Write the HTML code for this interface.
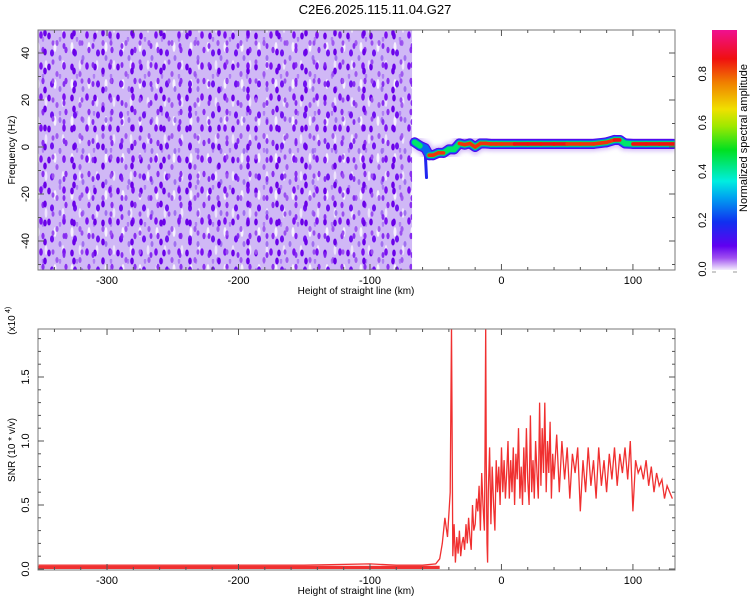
<!DOCTYPE html>
<html><head><meta charset="utf-8"><style>
body{margin:0;background:#fff}
svg{display:block;font-family:"Liberation Sans",sans-serif}
</style></head><body>
<svg id="c" width="750" height="600" xmlns="http://www.w3.org/2000/svg">
<defs>
<pattern id="nz1" width="23" height="31" patternUnits="userSpaceOnUse">
<ellipse cx="3" cy="5" rx="1.8" ry="3.5" fill="#6a00e8"/>
<ellipse cx="11" cy="12" rx="1.6" ry="3" fill="#9a50f0" opacity="0.9"/>
<ellipse cx="18" cy="4" rx="1.8" ry="3.8" fill="#7a10f0"/>
<ellipse cx="20" cy="19" rx="1.6" ry="3.2" fill="#8a30f0"/>
<ellipse cx="6" cy="22" rx="2" ry="3.6" fill="#7010f0"/>
<ellipse cx="14" cy="27" rx="1.5" ry="3" fill="#a070f0"/>
</pattern>
<pattern id="nz2" width="29" height="19" patternUnits="userSpaceOnUse">
<ellipse cx="6" cy="8" rx="1.5" ry="3" fill="#8020f0" opacity="0.9"/>
<ellipse cx="16" cy="14" rx="1.8" ry="3.5" fill="#6a00e8"/>
<ellipse cx="24" cy="5" rx="1.5" ry="2.8" fill="#9a50f0"/>
</pattern>
<pattern id="nz3" width="17" height="37" patternUnits="userSpaceOnUse">
<ellipse cx="4" cy="10" rx="1.5" ry="5" fill="#ffffff" opacity="0.8"/>
<ellipse cx="12" cy="28" rx="1.4" ry="5" fill="#f4eefe" opacity="0.8"/>
<ellipse cx="9" cy="2" rx="1.3" ry="3" fill="#b080f4"/>
</pattern>
<linearGradient id="cb" x1="0" y1="1" x2="0" y2="0">
<stop offset="0" stop-color="#f4ecfc"/>
<stop offset="0.05" stop-color="#a050f0"/>
<stop offset="0.1" stop-color="#6000f0"/>
<stop offset="0.2" stop-color="#1030f0"/>
<stop offset="0.3" stop-color="#00a0f0"/>
<stop offset="0.37" stop-color="#00eee0"/>
<stop offset="0.5" stop-color="#00e020"/>
<stop offset="0.6" stop-color="#a0e800"/>
<stop offset="0.67" stop-color="#f0e000"/>
<stop offset="0.78" stop-color="#f08000"/>
<stop offset="0.88" stop-color="#f01010"/>
<stop offset="1" stop-color="#f01090"/>
</linearGradient>
<filter id="blur"><feGaussianBlur stdDeviation="2"/></filter>
<clipPath id="clipTop"><rect x="38" y="30" width="637" height="240"/></clipPath>
<clipPath id="clipBot"><rect x="38" y="329" width="637" height="241"/></clipPath>
</defs>
<text x="375" y="14" text-anchor="middle" font-size="13">C2E6.2025.115.11.04.G27</text>
<g id="top"></g>
<g id="bot"></g>
<g id="cbar"></g>
</svg>
<script>
const NS="http://www.w3.org/2000/svg";
function mk(t,a,p){const e=document.createElementNS(NS,t);for(const k in a)e.setAttribute(k,a[k]);p.appendChild(e);return e;}
// ---- data ----
const xTicks=[-300,-200,-100,0,100];
const freqTicks=[-40,-20,0,20,40];
const snrTicks=[0.0,0.5,1.0,1.5];
const cbTicks=[0.0,0.2,0.4,0.6,0.8];
const noiseEnd=-68;
const ridgeX=[-66,-62,-58,-55,-52,-48,-44,-40,-36,-32,-28,-24,-20,-16,-12,-8,-4,0,10,20,30,40,50,60,70,80,86,90,94,100,110,120,132];
const ridgeF=[2.0,0.5,-0.5,-3.5,-3.5,-2.5,-2.5,-1.0,-1.0,1.5,1.0,1.5,0.0,1.5,1.5,1.3,1.3,1.3,1.3,1.3,1.3,1.3,1.3,1.3,1.3,2.0,3.0,3.0,1.5,1.3,1.3,1.3,1.3];
const ridgeA=[0.45,0.5,0.35,0.75,0.8,0.85,0.8,0.6,0.55,0.85,0.9,0.85,0.9,0.8,0.85,0.8,0.85,0.85,0.88,0.88,0.88,0.88,0.88,0.85,0.7,0.75,0.9,0.88,0.6,0.88,0.88,0.88,0.88];
const snrX=[-352,-300,-250,-200,-150,-100,-80,-60,-50,-47,-45,-43,-41,-39,-38,-37.5,-37,-36,-35,-34,-33,-32,-31,-30,-29,-28,-27,-26,-25,-24,-23,-22,-21,-20,-19,-18,-17,-16,-15,-14,-13,-12.5,-12,-11.5,-11,-10.5,-10,-9,-8,-7,-6,-5,-4,-3,-2,-1,0,1,2,3,4,5,6,7,8,9,10,11,12,13,14,15,16,17,18,19,20,21,22,23,24,25,26,27,28,29,30,31,32,33,34,35,36,37,38,39,40,42,44,46,48,50,52,54,56,58,60,62,64,66,68,70,72,74,76,78,80,82,84,86,88,90,92,94,96,98,100,102,104,106,108,110,112,114,116,118,120,122,124,126,128,130,132];
const snrY=[0.03,0.03,0.03,0.03,0.03,0.04,0.03,0.03,0.04,0.08,0.2,0.4,0.25,0.6,1.9,1.1,0.1,0.35,0.05,0.25,0.12,0.3,0.1,0.2,0.25,0.15,0.35,0.2,0.4,0.25,0.15,0.5,0.3,0.35,0.55,0.45,0.65,0.3,0.75,0.5,0.3,0.9,1.9,0.8,0.2,0.05,0.6,0.95,0.35,0.8,0.5,0.3,0.85,0.6,0.8,0.5,0.95,0.6,0.85,0.55,0.75,1.0,0.55,0.85,0.6,0.95,0.5,0.9,0.7,1.1,0.55,0.8,0.5,0.95,0.6,1.1,0.7,0.5,1.2,0.6,0.85,0.55,1.0,0.75,0.55,1.3,0.65,1.1,0.75,1.3,0.6,1.0,0.75,1.15,0.55,0.9,0.7,1.05,0.6,1.0,0.7,0.95,0.55,0.9,0.75,0.95,0.45,0.85,0.6,0.95,0.65,0.85,0.55,0.95,0.65,0.85,0.6,0.9,0.7,0.95,0.65,0.9,0.75,0.95,0.7,1.0,0.45,0.85,0.75,0.8,0.7,0.85,0.65,0.8,0.6,0.75,0.65,0.7,0.55,0.65,0.6,0.55];
// ---- scales ----
const X0=38,X1=675,KM0=-352.5,KM1=132;
const sx=v=>X0+(v-KM0)/(KM1-KM0)*(X1-X0);
const fy=v=>147-v*2.35;
const sy=v=>569-v*128;
const cy=v=>269-v*244;
function cmap(a){const st=[[0,[244,236,252]],[0.05,[160,80,240]],[0.1,[96,0,240]],[0.2,[16,48,240]],[0.3,[0,160,240]],[0.37,[0,238,224]],[0.5,[0,224,32]],[0.6,[160,232,0]],[0.67,[240,224,0]],[0.78,[240,128,0]],[0.88,[240,16,16]],[1,[240,16,144]]];
 for(let i=1;i<st.length;i++){if(a<=st[i][0]){const t=(a-st[i-1][0])/(st[i][0]-st[i-1][0]);const c=st[i-1][1].map((v,k)=>Math.round(v+(st[i][1][k]-v)*t));return `rgb(${c})`;}}return "rgb(240,16,144)";}
const pTop=document.getElementById('top'),pBot=document.getElementById('bot'),cb=document.getElementById('cbar');
// ---- spectrogram ----
const g1=mk('g',{'clip-path':'url(#clipTop)'},pTop);
const nw=sx(noiseEnd)-X0;
let bg=mk('rect',{x:X0,y:30,width:nw,height:240,fill:'#d0b8f6'},g1);


for(const id of ['nz3','nz1','nz2']){
 const n=mk('rect',{x:X0,y:30,width:nw,height:240,fill:`url(#${id})`},g1);
 
 
}
const rg=mk('g',{},g1);


let d0='';for(let i=0;i<ridgeX.length;i++)d0+=(i?'L':'M')+sx(ridgeX[i])+','+fy(ridgeF[i]);
const halo=mk('path',{d:d0,stroke:'#b890f4','stroke-width':14,fill:'none',opacity:0.6,filter:'url(#blur)'},rg);


let tl=mk('path',{d:`M${sx(-58)},${fy(-2)} L${sx(-57)},${fy(-13)}`,stroke:cmap(0.18),'stroke-width':3,'stroke-linecap':'round',fill:'none'},rg);


const layers=[[5,0.1],[3.8,0.22],[2.8,0.4],[1.8,0.65]];
for(const [w,a] of layers){
 for(let i=0;i<ridgeX.length-1;i++){
  const amp=Math.min(ridgeA[i],ridgeA[i+1]);
  if(amp<a)continue;
  const col=a<0.15?cmap(0.12):a<0.3?cmap(0.25):a<0.5?cmap(0.45):cmap(Math.max(0.85,amp));
  const s=mk('line',{x1:sx(ridgeX[i]),y1:fy(ridgeF[i]),x2:sx(ridgeX[i+1]),y2:fy(ridgeF[i+1]),stroke:col,'stroke-width':w*2,'stroke-linecap':'round'},rg);
  
  
 }
}
// ---- axes helper ----
function axes(p,yT,yTop,yBot,yfun,yMinorStep,yLo,yHi,fmt,xlab){
 mk('rect',{x:X0,y:yTop,width:X1-X0,height:yBot-yTop,fill:'none',stroke:'#777'},p);
 for(let v=-340;v<=130;v+=20){const x=sx(v);const big=v%100===0;
  mk('line',{x1:x,y1:yBot,x2:x,y2:yBot-(big?6:3),stroke:'#555'},p);
  mk('line',{x1:x,y1:yTop,x2:x,y2:yTop+(big?6:3),stroke:'#555'},p);}
 for(const v of xTicks){const t=mk('text',{x:sx(v),y:yBot+14,'text-anchor':'middle','font-size':11},p);t.textContent=v;
  }
 const xl=mk('text',{x:356,y:yBot+24,'text-anchor':'middle','font-size':10},p);xl.textContent=xlab;
 
 for(let v=yLo;v<=yHi+1e-9;v+=yMinorStep){const y=yfun(v);if(y<yTop||y>yBot)continue;
  const big=yT.some(t=>Math.abs(t-v)<1e-6);
  mk('line',{x1:X0,y1:y,x2:X0+(big?6:3),y2:y,stroke:'#555'},p);
  mk('line',{x1:X1,y1:y,x2:X1-(big?6:3),y2:y,stroke:'#555'},p);}
 for(const v of yT){const y=yfun(v);const t=mk('text',{x:0,y:0,'text-anchor':'middle','font-size':11,transform:`translate(29,${y}) rotate(-90)`},p);t.textContent=fmt(v);
  }
}
axes(pTop,freqTicks,30,270,fy,10,-50,50,v=>v,'Height of straight line (km)');
const yl=mk('text',{'text-anchor':'middle','font-size':10,transform:'translate(15,150) rotate(-90)'},pTop);yl.textContent='Frequency (Hz)';

// ---- SNR ----
const g2=mk('g',{'clip-path':'url(#clipBot)'},pBot);
const bl=mk('rect',{x:X0,y:sy(0.025),width:sx(-47)-X0,height:sy(0)-sy(0.025),fill:'#f03030'},g2);


let d='';for(let i=0;i<snrX.length;i++)d+=(i?'L':'M')+sx(snrX[i]).toFixed(1)+','+sy(snrY[i]).toFixed(1);
const ln=mk('path',{d:d,fill:'none',stroke:'#f03030','stroke-width':1.3},g2);


axes(pBot,snrTicks,329,570,sy,0.1,0,1.8,v=>v.toFixed(1),'Height of straight line (km)');
const yl2=mk('text',{'text-anchor':'middle','font-size':10,transform:'translate(15,450) rotate(-90)'},pBot);yl2.textContent='SNR (10 * v/v)';

const ex=mk('text',{'text-anchor':'middle','font-size':10,transform:'translate(15,325) rotate(-90)'},pBot);ex.textContent='(x10';

const ex2=mk('text',{'font-size':7,transform:'translate(10,313) rotate(-90)'},pBot);ex2.textContent='4)';

// ---- colorbar ----
const cr=mk('rect',{x:712,y:30,width:25,height:240,fill:'url(#cb)'},cb);

for(const v of cbTicks){const t=mk('text',{'text-anchor':'middle','font-size':11,transform:`translate(706,${cy(v)}) rotate(-90)`},cb);t.textContent=v.toFixed(1);
 }
mk('line',{x1:712,y1:272,x2:716,y2:272,stroke:'#999'},cb);mk('line',{x1:733,y1:272,x2:737,y2:272,stroke:'#999'},cb);
const ct=mk('text',{'text-anchor':'middle','font-size':11,transform:'translate(747,138) rotate(-90)'},cb);ct.textContent='Normalized spectral amplitude';

</script>
</body></html>
